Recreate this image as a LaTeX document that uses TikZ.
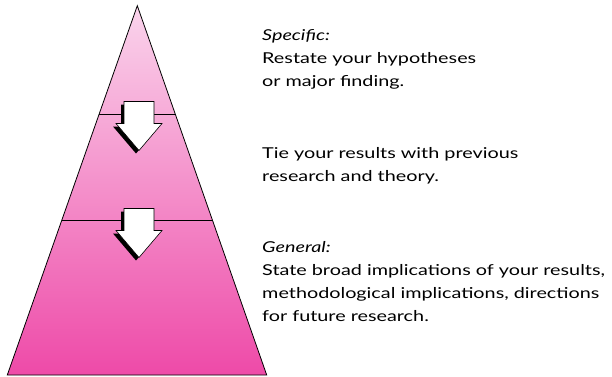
\documentclass[tikz,border=0pt]{standalone}
\usepackage{fontspec}
\setmainfont{Lato}[FakeStretch=1.32]
\usetikzlibrary{positioning}

\definecolor{pinkTop}{RGB}{250,212,236}
\definecolor{pinkBottom}{RGB}{238,74,168}

\begin{document}
\begin{tikzpicture}[
        x=1pt, y=-1pt,
        pyramidShape/.style={
            draw=black,
            line width=0.8pt,
            line join=miter,
            top color=pinkTop,
            bottom color=pinkBottom
        },
        levelLine/.style={
            draw=black,
            line width=0.7pt
        },
        arrowShadow/.style={
            fill=black
        },
        downArrow/.style={
            draw=black,
            fill=white,
            line width=0.6pt
        },
        noteText/.style={
            anchor=base west,
            align=left,
            inner sep=0pt,
            font=\fontsize{15}{23}\selectfont
        }
    ]

        \useasboundingbox (0,0) rectangle (612,376);

        % Pyramid
        \coordinate (apex) at (137.3,5.7);
        \coordinate (baseL) at (7.3,375);
        \coordinate (baseR) at (266.7,375);
        \path[pyramidShape] (apex) -- (baseR) -- (baseL) -- cycle;

        % Level separators
        \draw[levelLine] (99.2,114) -- (175.4,114);
        \draw[levelLine] (61.9,220.5) -- (212.7,220.5);

        % Downward arrows with shadow
        \foreach \ya in {101.5,208.5} {
            \path[arrowShadow, shift={(-3,3)}]
                (124,\ya) -- (154,\ya) -- (154,\ya+22) -- (162,\ya+22)
                -- (139,\ya+49) -- (116,\ya+22) -- (124,\ya+22) -- cycle;
            \path[downArrow]
                (124,\ya) -- (154,\ya) -- (154,\ya+22) -- (162,\ya+22)
                -- (139,\ya+49) -- (116,\ya+22) -- (124,\ya+22) -- cycle;
        }

        % Notes (anchored on the baseline of their last line)
        \node[noteText] (specific) at (262,86.7) {%
            \textit{Specific:}\\
            Restate your hypotheses\\
            or major finding.};

        \node[noteText] (tie) at (262,181) {%
            Tie your results with previous\\
            research and theory.};

        \node[noteText] (general) at (262,321.7) {%
            \textit{General:}\\
            State broad implications of your results,\\
            methodological implications, directions\\
            for future research.};

    \end{tikzpicture}
\end{document}
